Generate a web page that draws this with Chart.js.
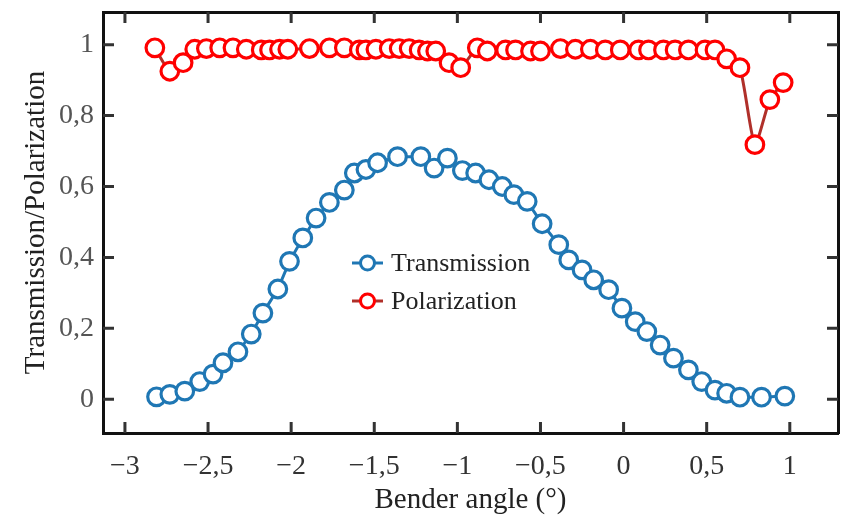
<!DOCTYPE html>
<html>
<head>
<meta charset="utf-8">
<script src="https://cdn.jsdelivr.net/npm/chart.js@4.4.0/dist/chart.umd.min.js"></script>
<style>
  html, body { margin: 0; padding: 0; background: #fff; }
  #wrap { width: 841px; height: 515px; }
</style>
</head>
<body>
<div id="wrap"><canvas id="plot" width="841" height="515"></canvas></div>
<script>
const transAngle = [-2.81, -2.73, -2.64, -2.55, -2.47, -2.41, -2.32, -2.24, -2.17, -2.08,
  -2.01, -1.93, -1.85, -1.77, -1.68, -1.62, -1.55, -1.48, -1.36, -1.22,
  -1.14, -1.06, -0.97, -0.89, -0.81, -0.73, -0.66, -0.58, -0.49, -0.39,
  -0.33, -0.25, -0.18, -0.09, -0.01, 0.07, 0.14, 0.22, 0.30, 0.39,
  0.47, 0.55, 0.62, 0.70, 0.83, 0.97];
const transmission = [0.007, 0.014, 0.023, 0.05, 0.071, 0.103, 0.134, 0.184, 0.243, 0.311,
  0.389, 0.455, 0.511, 0.555, 0.59, 0.638, 0.648, 0.667, 0.684, 0.684,
  0.652, 0.68, 0.645, 0.638, 0.619, 0.60, 0.577, 0.558, 0.495, 0.436,
  0.393, 0.365, 0.337, 0.309, 0.257, 0.219, 0.191, 0.153, 0.116, 0.083,
  0.05, 0.026, 0.017, 0.006, 0.006, 0.009];

const polAngle = [-2.82, -2.73, -2.65, -2.58, -2.51, -2.43, -2.35, -2.27, -2.18, -2.13,
  -2.07, -2.02, -1.89, -1.77, -1.68, -1.59, -1.55, -1.49, -1.41, -1.35,
  -1.29, -1.23, -1.18, -1.13, -1.05, -0.98, -0.88, -0.82, -0.71, -0.65,
  -0.56, -0.50, -0.38, -0.29, -0.20, -0.11, -0.02, 0.09, 0.15, 0.24,
  0.31, 0.39, 0.49, 0.55, 0.62, 0.70, 0.79, 0.88, 0.96];
const polarization = [0.991, 0.925, 0.949, 0.987, 0.989, 0.991, 0.991, 0.987, 0.985, 0.985,
  0.987, 0.987, 0.989, 0.991, 0.991, 0.985, 0.985, 0.987, 0.989, 0.989,
  0.989, 0.985, 0.982, 0.982, 0.949, 0.935, 0.991, 0.982, 0.985, 0.985,
  0.982, 0.982, 0.989, 0.987, 0.987, 0.985, 0.985, 0.985, 0.985, 0.985,
  0.985, 0.985, 0.985, 0.985, 0.96, 0.935, 0.718, 0.845, 0.893];

const xTickValues = [-3, -2.5, -2, -1.5, -1, -0.5, 0, 0.5, 1];
const xTickLabels = ['\u22123', '\u22122,5', '\u22122', '\u22121,5', '\u22121', '\u22120,5', '0', '0,5', '1'];
const yTickValues = [0, 0.2, 0.4, 0.6, 0.8, 1];
const yTickLabels = ['0', '0,2', '0,4', '0,6', '0,8', '1'];

const seriesNames = ['Transmission', 'Polarization'];

const BLUE = '#1f77b4';
const RED = '#ff0000';
const DARKRED = '#b0302a';
const SERIF = '"Liberation Serif", "Times New Roman", serif';

function toPoints(xs, ys) {
  return xs.map((x, i) => ({ x: x, y: ys[i] }));
}

function fixedTicks(values) {
  return function(scale) {
    scale.ticks = values.map(v => ({ value: v }));
  };
}

// fix the box of a scale so the plot frame lands where the figure has it
function fixedBox(size) {
  return function(scale) {
    if (scale.isHorizontal()) scale.height = size;
    else scale.width = size;
    scale.paddingLeft = scale.paddingRight = 0;
    scale.paddingTop = scale.paddingBottom = 0;
  };
}

// ticks pointing into the plot on all four sides
const inwardTicks = {
  id: 'inwardTicks',
  beforeDatasetsDraw(chart) {
    const { ctx, chartArea: a, scales } = chart;
    const len = 11;
    ctx.save();
    ctx.strokeStyle = '#333';
    ctx.lineWidth = 3;
    ctx.beginPath();
    xTickValues.forEach(v => {
      const px = scales.x.getPixelForValue(v);
      ctx.moveTo(px, a.bottom); ctx.lineTo(px, a.bottom - len);
      ctx.moveTo(px, a.top); ctx.lineTo(px, a.top + len);
    });
    yTickValues.forEach(v => {
      const py = scales.y.getPixelForValue(v);
      ctx.moveTo(a.left, py); ctx.lineTo(a.left + len, py);
      ctx.moveTo(a.right, py); ctx.lineTo(a.right - len, py);
    });
    ctx.stroke();
    ctx.restore();
  }
};

// legend placed in the middle of the plot
const innerLegend = {
  id: 'innerLegend',
  afterDatasetsDraw(chart) {
    const ctx = chart.ctx;
    const x0 = 352, rows = [263, 301];
    ctx.save();
    chart.data.datasets.forEach((ds, i) => {
      const y = rows[i];
      ctx.strokeStyle = ds.borderColor;
      ctx.lineWidth = 3;
      ctx.beginPath();
      ctx.moveTo(x0, y); ctx.lineTo(x0 + 31, y);
      ctx.stroke();
      ctx.beginPath();
      ctx.arc(x0 + 15.5, y, 7, 0, Math.PI * 2);
      ctx.fillStyle = '#fff';
      ctx.fill();
      ctx.strokeStyle = ds.pointBorderColor;
      ctx.lineWidth = 3;
      ctx.stroke();
      ctx.fillStyle = '#222';
      ctx.font = '26px ' + SERIF;
      ctx.textBaseline = 'middle';
      ctx.fillText(ds.label, x0 + 39, y + 1);
    });
    ctx.restore();
  }
};

const frame = { display: true, color: '#111', width: 3 };

new Chart(document.getElementById('plot'), {
  type: 'scatter',
  data: {
    datasets: [{
      label: seriesNames[0],
      data: toPoints(transAngle, transmission),
      showLine: true,
      borderColor: BLUE,
      borderWidth: 3,
      pointBorderColor: BLUE,
      pointBackgroundColor: '#fff',
      pointBorderWidth: 3.2,
      pointRadius: 8.8,
      tension: 0
    }, {
      label: seriesNames[1],
      data: toPoints(polAngle, polarization),
      showLine: true,
      borderColor: DARKRED,
      borderWidth: 3,
      pointBorderColor: RED,
      pointBackgroundColor: '#fff',
      pointBorderWidth: 3.2,
      pointRadius: 8.8,
      tension: 0.2
    }]
  },
  options: {
    responsive: false,
    animation: false,
    layout: { padding: 0, autoPadding: false },
    plugins: {
      legend: { display: false },
      tooltip: { enabled: false }
    },
    scales: {
      x: {
        type: 'linear',
        position: 'bottom',
        min: -3.132,
        max: 1.29,
        afterBuildTicks: fixedTicks(xTickValues),
        afterFit: fixedBox(82),
        grid: { display: false, drawTicks: false },
        border: frame,
        ticks: {
          padding: 17,
          color: '#333',
          font: { family: SERIF, size: 28 },
          callback: (v, i) => xTickLabels[i]
        },
        title: {
          display: true,
          text: 'Bender angle (\u00b0)',
          color: '#222',
          font: { family: SERIF, size: 29, lineHeight: 1 },
          padding: { top: 0, bottom: 0 }
        }
      },
      y: {
        type: 'linear',
        position: 'left',
        min: -0.095,
        max: 1.092,
        afterBuildTicks: fixedTicks(yTickValues),
        afterFit: fixedBox(103),
        grid: { display: false, drawTicks: false },
        border: frame,
        ticks: {
          padding: 9,
          color: '#555',
          font: { family: SERIF, size: 28 },
          callback: (v, i) => yTickLabels[i]
        },
        title: {
          display: true,
          text: 'Transmission/Polarization',
          color: '#222',
          font: { family: SERIF, size: 29, lineHeight: 1 },
          padding: { top: 22, bottom: 0 }
        }
      },
      x2: {
        type: 'linear',
        position: 'top',
        min: -3.132,
        max: 1.29,
        afterFit: fixedBox(12),
        grid: { display: false, drawTicks: false },
        border: frame,
        ticks: { display: false }
      },
      y2: {
        type: 'linear',
        position: 'right',
        min: -0.095,
        max: 1.092,
        afterFit: fixedBox(3),
        grid: { display: false, drawTicks: false },
        border: frame,
        ticks: { display: false }
      }
    }
  },
  plugins: [inwardTicks, innerLegend]
});
</script>
</body>
</html>
